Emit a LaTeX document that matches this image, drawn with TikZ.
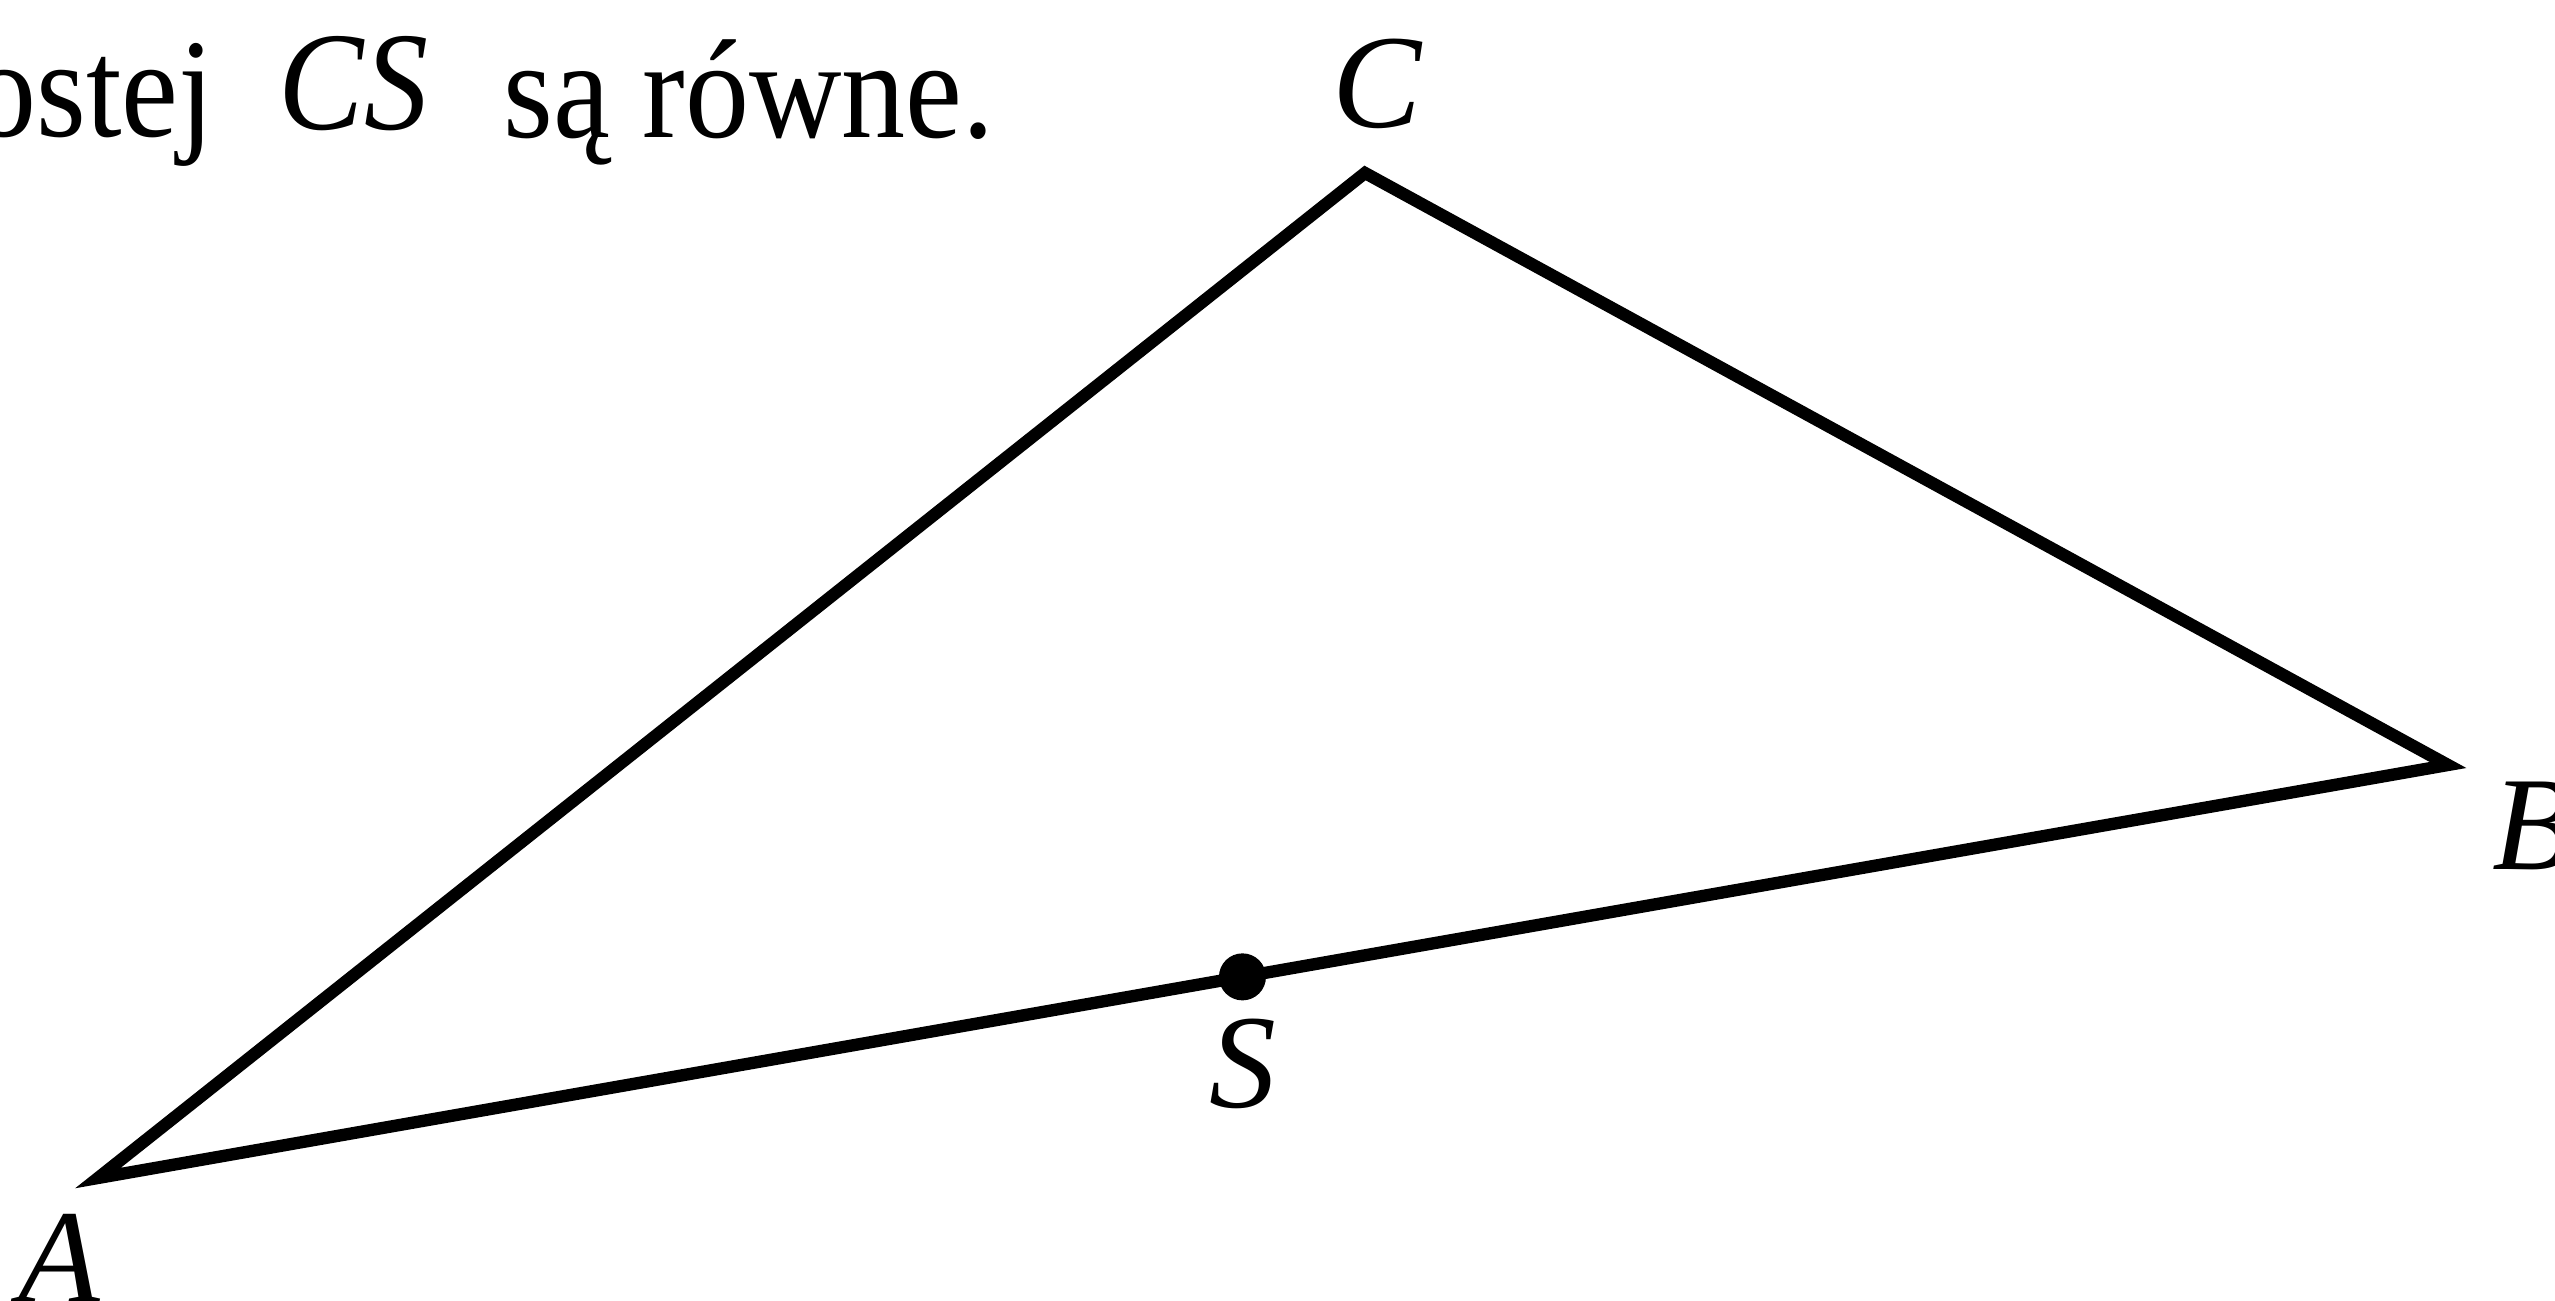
\documentclass[tikz,border=0pt]{standalone}
\usepackage{fontspec}
\setmainfont{Liberation Serif}
\usepackage{graphicx}
\usetikzlibrary{positioning,calc}
\newcommand{\narrowtext}[1]{\scalebox{0.91}[1]{#1}}

\begin{document}
\begin{tikzpicture}[
    x=0.01cm,y=0.01cm,
    side/.style={line width=3.5pt},
    vlabel/.style={font=\fontsize{38}{44}\selectfont\itshape, inner sep=0pt},
    words/.style={font=\fontsize{40}{46}\selectfont, inner sep=0pt},
    dot/.style={circle, fill=black, inner sep=0pt, minimum size=0.47cm}
]
\useasboundingbox (0,0) rectangle (2555,1300);

% end of the sentence above the figure
\node[words, anchor=base east] (txtA) at (215,1163) {\narrowtext{ostej}};
\node[words, anchor=base west] (txtB) at (278,1170) {\narrowtext{\itshape CS}};
\node[words, anchor=base east] (txtC) at (995,1162) {\narrowtext{są równe.}};

% triangle
\coordinate (A) at (98,122);
\coordinate (B) at (2448,535);
\coordinate (C) at (1365,1127);
\coordinate (S) at ($(A)!0.487!(B)$);
\draw[side] (A) -- (B) -- (C) -- cycle;
\node[dot] (Sdot) at (S) {};

\node[vlabel, anchor=base] (labC) at (1377,1172) {C};
\node[vlabel, anchor=base west] (labB) at (2492,430) {B};
\node[vlabel, anchor=base west] (labA) at (18,-2) {A};
\node[vlabel, below=0.17cm of Sdot] (labS) {S};
\end{tikzpicture}
\end{document}
